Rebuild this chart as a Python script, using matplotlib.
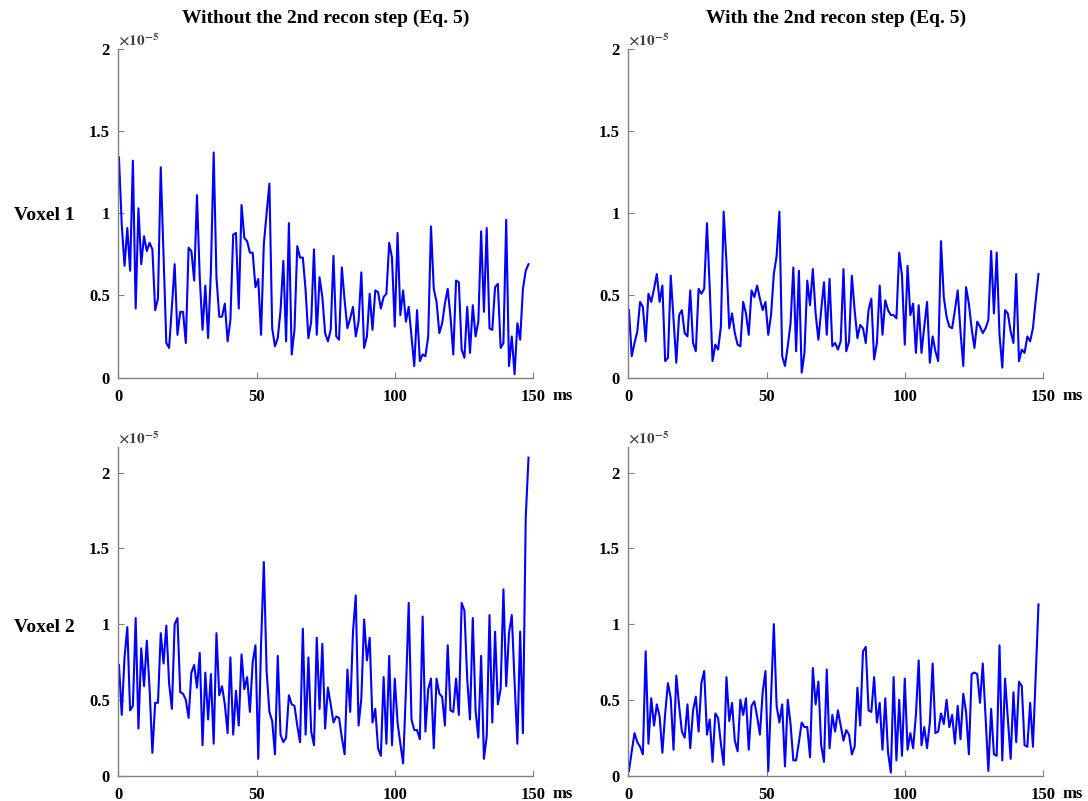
import numpy as np
import matplotlib
matplotlib.use("Agg")
import matplotlib.pyplot as plt

plt.rcParams["font.family"] = ["Liberation Serif", "DejaVu Serif"]
plt.rcParams["font.weight"] = "bold"
plt.rcParams["mathtext.fontset"] = "stix"

# signal amplitudes, in units of 1e-5, one sample per ms
voxel1_without = [
    1.34, 0.93, 0.68, 0.91, 0.65, 1.32, 0.42, 1.03, 0.69, 0.86,
    0.77, 0.82, 0.78, 0.41, 0.48, 1.28, 0.75, 0.21, 0.18, 0.43,
    0.69, 0.26, 0.40, 0.40, 0.21, 0.79, 0.77, 0.59, 1.11, 0.61,
    0.29, 0.56, 0.24, 0.65, 1.37, 0.61, 0.37, 0.37, 0.45, 0.22,
    0.35, 0.87, 0.88, 0.42, 1.05, 0.85, 0.83, 0.76, 0.76, 0.55,
    0.60, 0.26, 0.81, 1.00, 1.18, 0.30, 0.19, 0.24, 0.41, 0.71,
    0.22, 0.94, 0.14, 0.29, 0.80, 0.73, 0.73, 0.53, 0.24, 0.34,
    0.78, 0.26, 0.61, 0.49, 0.27, 0.22, 0.29, 0.74, 0.25, 0.23,
    0.67, 0.47, 0.30, 0.36, 0.43, 0.25, 0.34, 0.64, 0.18, 0.25,
    0.51, 0.29, 0.53, 0.52, 0.42, 0.49, 0.51, 0.82, 0.73, 0.31,
    0.88, 0.38, 0.53, 0.34, 0.43, 0.25, 0.07, 0.41, 0.10, 0.14,
    0.13, 0.25, 0.92, 0.54, 0.46, 0.27, 0.33, 0.45, 0.54, 0.37,
    0.14, 0.59, 0.58, 0.17, 0.12, 0.43, 0.15, 0.44, 0.25, 0.34,
    0.89, 0.40, 0.91, 0.30, 0.29, 0.55, 0.57, 0.18, 0.21, 0.96,
    0.07, 0.25, 0.02, 0.33, 0.23, 0.54, 0.65, 0.69,
]
voxel1_with = [
    0.41, 0.13, 0.21, 0.28, 0.46, 0.43, 0.22, 0.51, 0.46, 0.54,
    0.63, 0.46, 0.56, 0.10, 0.12, 0.62, 0.35, 0.09, 0.38, 0.41,
    0.27, 0.25, 0.53, 0.21, 0.16, 0.54, 0.51, 0.54, 0.94, 0.54,
    0.10, 0.20, 0.17, 0.31, 1.01, 0.70, 0.30, 0.39, 0.27, 0.20,
    0.19, 0.46, 0.39, 0.26, 0.53, 0.49, 0.56, 0.48, 0.41, 0.46,
    0.26, 0.38, 0.63, 0.74, 1.01, 0.13, 0.07, 0.19, 0.33, 0.67,
    0.16, 0.65, 0.03, 0.15, 0.59, 0.44, 0.66, 0.39, 0.23, 0.41,
    0.58, 0.26, 0.60, 0.19, 0.21, 0.17, 0.22, 0.66, 0.16, 0.22,
    0.62, 0.41, 0.24, 0.32, 0.30, 0.21, 0.41, 0.48, 0.11, 0.21,
    0.56, 0.26, 0.47, 0.41, 0.38, 0.38, 0.36, 0.76, 0.62, 0.20,
    0.68, 0.38, 0.45, 0.15, 0.44, 0.15, 0.31, 0.46, 0.09, 0.25,
    0.16, 0.10, 0.83, 0.49, 0.37, 0.31, 0.30, 0.41, 0.53, 0.28,
    0.07, 0.55, 0.45, 0.30, 0.18, 0.34, 0.31, 0.27, 0.30, 0.35,
    0.77, 0.39, 0.76, 0.26, 0.06, 0.41, 0.39, 0.28, 0.21, 0.63,
    0.10, 0.17, 0.15, 0.25, 0.22, 0.30, 0.47, 0.63,
]
voxel2_without = [
    0.73, 0.40, 0.78, 0.98, 0.43, 0.46, 1.04, 0.31, 0.84, 0.59,
    0.89, 0.57, 0.15, 0.48, 0.48, 0.94, 0.74, 0.99, 0.61, 0.44,
    1.00, 1.04, 0.55, 0.54, 0.50, 0.38, 0.68, 0.73, 0.58, 0.81,
    0.20, 0.68, 0.37, 0.67, 0.21, 0.94, 0.53, 0.59, 0.47, 0.28,
    0.78, 0.27, 0.56, 0.33, 0.80, 0.57, 0.65, 0.42, 0.75, 0.86,
    0.11, 0.86, 1.41, 0.69, 0.42, 0.36, 0.14, 0.79, 0.27, 0.22,
    0.25, 0.53, 0.47, 0.46, 0.33, 0.22, 0.97, 0.27, 0.78, 0.29,
    0.20, 0.91, 0.44, 0.87, 0.31, 0.58, 0.47, 0.35, 0.39, 0.38,
    0.25, 0.14, 0.70, 0.42, 0.95, 1.19, 0.33, 0.51, 1.03, 0.76,
    0.91, 0.35, 0.44, 0.18, 0.13, 0.65, 0.21, 0.79, 0.20, 0.64,
    0.35, 0.21, 0.08, 0.56, 1.14, 0.37, 0.30, 0.30, 0.24, 1.05,
    0.29, 0.57, 0.64, 0.18, 0.64, 0.54, 0.52, 0.33, 0.86, 0.43,
    0.42, 0.64, 0.40, 1.14, 1.09, 0.64, 0.37, 1.04, 0.43, 0.25,
    0.79, 0.11, 0.26, 1.06, 0.35, 0.95, 0.47, 0.57, 1.23, 0.59,
    0.94, 1.06, 0.62, 0.21, 0.95, 0.28, 1.70, 2.10,
]
voxel2_with = [
    0.03, 0.16, 0.28, 0.22, 0.19, 0.14, 0.82, 0.21, 0.51, 0.33,
    0.47, 0.39, 0.15, 0.41, 0.61, 0.51, 0.17, 0.66, 0.46, 0.29,
    0.25, 0.47, 0.18, 0.43, 0.52, 0.29, 0.61, 0.69, 0.27, 0.37,
    0.09, 0.41, 0.38, 0.21, 0.07, 0.65, 0.36, 0.48, 0.23, 0.16,
    0.50, 0.40, 0.51, 0.17, 0.46, 0.49, 0.39, 0.27, 0.55, 0.69,
    0.03, 0.51, 1.00, 0.46, 0.35, 0.47, 0.06, 0.50, 0.34, 0.10,
    0.10, 0.22, 0.35, 0.32, 0.32, 0.12, 0.71, 0.47, 0.62, 0.20,
    0.09, 0.70, 0.18, 0.40, 0.29, 0.43, 0.33, 0.23, 0.30, 0.27,
    0.14, 0.19, 0.58, 0.33, 0.82, 0.85, 0.43, 0.42, 0.65, 0.35,
    0.48, 0.17, 0.51, 0.15, 0.02, 0.65, 0.10, 0.50, 0.13, 0.64,
    0.17, 0.28, 0.18, 0.40, 0.76, 0.20, 0.32, 0.18, 0.35, 0.74,
    0.28, 0.29, 0.41, 0.34, 0.50, 0.32, 0.40, 0.21, 0.46, 0.24,
    0.54, 0.42, 0.14, 0.67, 0.68, 0.67, 0.48, 0.74, 0.38, 0.03,
    0.44, 0.14, 0.13, 0.86, 0.10, 0.64, 0.38, 0.11, 0.55, 0.22,
    0.62, 0.59, 0.20, 0.19, 0.48, 0.19, 0.66, 1.13,
]

col_titles = ["Without the 2nd recon step (Eq. 5)", "With the 2nd recon step (Eq. 5)"]
row_titles = ["Voxel 1", "Voxel 2"]
x_ticks = [0, 50, 100, 150]
y_ticks = [0, 0.5, 1, 1.5, 2]
row_ylim = [2.0, 2.17]

t_ms = 0.2 + 1.007 * np.arange(len(voxel1_without))
series = [[voxel1_without, voxel1_with], [voxel2_without, voxel2_with]]

W, H = 1088, 801
fig = plt.figure(figsize=(W / 100, H / 100), dpi=100)

lefts = [118.4, 628.4]
width = 415
bottoms = [377.5, 775.5]
tops = [49, 447]

for r in range(2):
    for c in range(2):
        ax = fig.add_axes([lefts[c] / W, (H - bottoms[r]) / H,
                           width / W, (bottoms[r] - tops[r]) / H])
        ax.plot(t_ms, series[r][c], color="#0000ff", lw=1.5)
        ax.set_xlim(0, 150)
        ax.set_ylim(0, row_ylim[r])
        ax.set_xticks(x_ticks)
        ax.set_yticks(y_ticks)
        ax.set_xticklabels([str(v) for v in x_ticks])
        ax.set_yticklabels([f"{v:g}" for v in y_ticks])
        for side in ["top", "right"]:
            ax.spines[side].set_visible(False)
        for side in ["left", "bottom"]:
            ax.spines[side].set_color("#808080")
            ax.spines[side].set_linewidth(1.0)
        ax.tick_params(direction="in", length=4, width=0.8, color="#808080",
                       labelsize=12)
        ax.tick_params(axis="x", pad=8)
        ax.tick_params(axis="y", pad=6)
        # unit label sits on the same line as the "150" tick label
        ax.annotate("ms", xy=(1, 0), xycoords="axes fraction",
                    xytext=(14, -16.3), textcoords="offset points",
                    ha="left", va="baseline", fontsize=12, fontweight="bold")
        ax.text(0.0, 1.0, r"$\times10^{-5}$", transform=ax.transAxes,
                ha="left", va="bottom", fontsize=11, color="#404040")

for c in range(2):
    fig.text((lefts[c] + width / 2) / W, 1 - 18 / H, col_titles[c],
             ha="center", va="center", fontsize=14, fontweight="bold")
for r, yc in enumerate([215, 627]):
    fig.text(44 / W, 1 - yc / H, row_titles[r],
             ha="center", va="center", fontsize=14, fontweight="bold")

fig.savefig("out.png", dpi=100)
